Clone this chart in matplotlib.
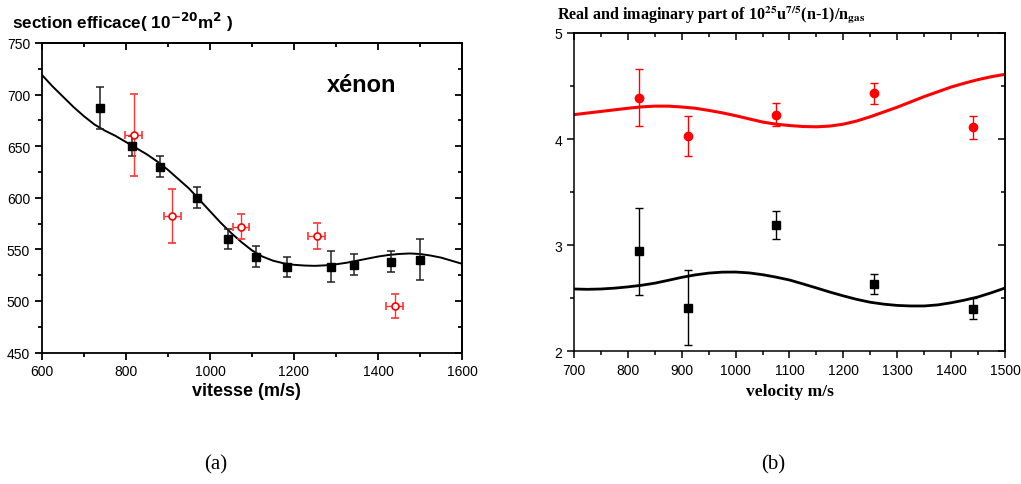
import numpy as np
import matplotlib
matplotlib.use("Agg")
import matplotlib.pyplot as plt
from matplotlib.ticker import MultipleLocator

# ---- panel (a): xenon cross section ----
v_black = [738, 815, 882, 968, 1042, 1110, 1183, 1287, 1342, 1430, 1500]
s_black = [687, 650, 630, 600, 560, 543, 533, 533, 535, 538, 540]
e_black = [20, 10, 10, 10, 10, 10, 10, 15, 10, 10, 20]

v_red = [818, 910, 1074, 1254, 1440]
s_red = [661, 582, 572, 563, 495]
e_red = [40, 26, 12, 13, 12]
ex_red = [20, 20, 20, 20, 20]

v_fit = [600, 625, 650, 675, 700, 725, 750, 775, 800, 825, 850, 875, 900,
         925, 950, 975, 1000, 1025, 1050, 1075, 1100, 1125, 1150, 1175, 1200,
         1225, 1250, 1275, 1300, 1325, 1350, 1375, 1400, 1425, 1450, 1475, 1500,
         1525, 1550, 1575, 1600]
s_fit = [719, 708, 698, 688, 679, 671, 665, 660, 654, 648, 642, 635, 627,
         618, 609, 598, 587, 576, 566, 557, 549, 543, 539, 536.5, 535,
         534.3, 534, 534.5, 535.5, 537, 539, 541, 543, 544.5, 545.5, 546, 545.5,
         544, 542, 539, 536]

# ---- panel (b): real / imaginary part ----
v_b = [820, 911, 1075, 1256, 1440]
re_b = [4.39, 4.03, 4.23, 4.43, 4.11]
re_err = [0.27, 0.19, 0.11, 0.10, 0.11]
im_b = [2.94, 2.41, 3.19, 2.63, 2.40]
im_err = [0.41, 0.35, 0.135, 0.095, 0.10]

v_curve = [700, 725, 750, 775, 800, 825, 850, 875, 900, 925, 950, 975, 1000,
           1025, 1050, 1075, 1100, 1125, 1150, 1175, 1200, 1225, 1250, 1275,
           1300, 1325, 1350, 1375, 1400, 1425, 1450, 1475, 1500]
re_curve = [4.23, 4.245, 4.26, 4.275, 4.29, 4.303, 4.31, 4.31, 4.302, 4.29,
            4.27, 4.247, 4.22, 4.19, 4.16, 4.14, 4.127, 4.118, 4.115, 4.122,
            4.14, 4.17, 4.21, 4.255, 4.30, 4.35, 4.40, 4.445, 4.49, 4.527,
            4.56, 4.588, 4.61]
im_curve = [2.585, 2.582, 2.585, 2.593, 2.605, 2.62, 2.64, 2.667, 2.695, 2.718,
            2.735, 2.744, 2.745, 2.737, 2.72, 2.697, 2.67, 2.633, 2.595, 2.556,
            2.52, 2.487, 2.46, 2.442, 2.43, 2.425, 2.425, 2.435, 2.455, 2.48,
            2.51, 2.55, 2.594]

fig = plt.figure(figsize=(10.21, 4.85), dpi=100)


def mirror_ticks(ax, xmaj, xmin, ymaj, ymin, width):
    ax.xaxis.set_major_locator(MultipleLocator(xmaj))
    ax.xaxis.set_minor_locator(MultipleLocator(xmin))
    ax.yaxis.set_major_locator(MultipleLocator(ymaj))
    ax.yaxis.set_minor_locator(MultipleLocator(ymin))
    ax.tick_params(which="major", direction="out", length=5, width=width)
    ax.tick_params(which="minor", direction="out", length=3, width=width)
    # top and right ticks point inwards, no labels
    top = ax.secondary_xaxis("top")
    top.xaxis.set_major_locator(MultipleLocator(xmaj))
    top.xaxis.set_minor_locator(MultipleLocator(xmin))
    top.tick_params(which="major", direction="in", length=5, width=width, labeltop=False)
    top.tick_params(which="minor", direction="in", length=3, width=width)
    right = ax.secondary_yaxis("right")
    right.yaxis.set_major_locator(MultipleLocator(ymaj))
    right.yaxis.set_minor_locator(MultipleLocator(ymin))
    right.tick_params(which="major", direction="in", length=5, width=width, labelright=False)
    right.tick_params(which="minor", direction="in", length=3, width=width)
    for sp in ax.spines.values():
        sp.set_linewidth(width)
    for sec in (top, right):
        for sp in sec.spines.values():
            sp.set_linewidth(width)


# panel (a)
ax1 = fig.add_axes([0.0411, 0.2711, 0.4114, 0.6382])
ax1.plot(v_fit, s_fit, color="black", lw=1.4, zorder=2, solid_joinstyle="round")
ax1.errorbar(v_black, s_black, yerr=e_black, fmt="s", color="black", ms=5.5,
             ecolor="#222222", elinewidth=1.1, capsize=3, capthick=1.1, zorder=3)
ax1.errorbar(v_red, s_red, yerr=e_red, xerr=ex_red, fmt="o", color="red", ms=5,
             mfc="white", mec="red", mew=1.2, ecolor="#ff3333", elinewidth=1.0,
             capsize=3, capthick=1.0, zorder=3)
ax1.set_xlim(600, 1600)
ax1.set_ylim(450, 750)
mirror_ticks(ax1, 200, 100, 50, 25, 1.3)
for lab in ax1.get_xticklabels() + ax1.get_yticklabels():
    lab.set_fontfamily("Liberation Sans")
    lab.set_fontsize(10)
ax1.text(0.76, 0.865, "xénon", transform=ax1.transAxes, fontsize=17,
         fontweight="bold", family="Liberation Sans", ha="center", va="center")
fig.text(12 / 1021, 1 - 22 / 485,
         r"section efficace( 10$^{\mathbf{-20}}$m$^{\mathbf{2}}$ )",
         fontsize=12.3, fontweight="bold", family="Liberation Sans",
         math_fontfamily="dejavusans", ha="left", va="center")
fig.text(246 / 1021, 1 - 392 / 485, "vitesse (m/s)", fontsize=13,
         fontweight="bold", family="Liberation Sans", ha="center", va="center")

# panel (b)
ax2 = fig.add_axes([0.5622, 0.2742, 0.4221, 0.6557])
ax2.plot(v_curve, re_curve, color="red", lw=2.2, zorder=2, solid_joinstyle="round")
ax2.plot(v_curve, im_curve, color="black", lw=2.0, zorder=2, solid_joinstyle="round")
ax2.errorbar(v_b, re_b, yerr=re_err, fmt="o", color="red", ms=6,
             ecolor="red", elinewidth=1.0, capsize=3, capthick=1.0, zorder=3)
ax2.errorbar(v_b, im_b, yerr=im_err, fmt="s", color="black", ms=5.5,
             ecolor="black", elinewidth=1.0, capsize=3, capthick=1.0, zorder=3)
ax2.set_xlim(700, 1500)
ax2.set_ylim(2, 5)
mirror_ticks(ax2, 100, 50, 1, 0.5, 1.1)
for lab in ax2.get_xticklabels() + ax2.get_yticklabels():
    lab.set_fontfamily("Liberation Sans")
    lab.set_fontsize(10)
fig.text(557 / 1021, 1 - 15 / 485,
         r"Real and imaginary part of 10$^{\mathbf{25}}$u$^{\mathbf{7/5}}$(n-1)/n$_{\mathbf{gas}}$",
         fontsize=11.6, fontweight="bold", family="Liberation Serif",
         math_fontfamily="stix", ha="left", va="center")
fig.text(790 / 1021, 1 - 392 / 485, "velocity m/s", fontsize=12.5,
         fontweight="bold", family="Liberation Serif", ha="center", va="center")

# captions
fig.text(216 / 1021, 1 - 465 / 485, "(a)", fontsize=15, family="Liberation Serif",
         ha="center", va="center")
fig.text(773 / 1021, 1 - 465 / 485, "(b)", fontsize=15, family="Liberation Serif",
         ha="center", va="center")

fig.savefig("out.png", dpi=100)
